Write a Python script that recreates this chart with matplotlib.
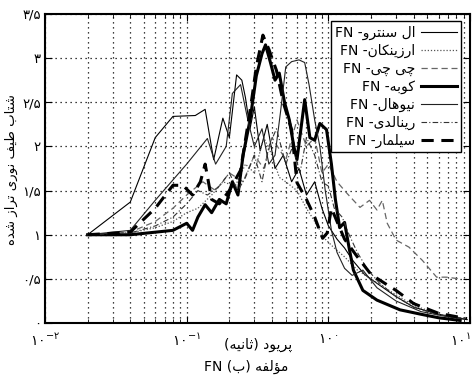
import matplotlib
matplotlib.use("Agg")
import matplotlib.pyplot as plt
import matplotlib.transforms as mtransforms
from matplotlib.ticker import FixedLocator, NullFormatter, LogLocator

# ---------------- minimal Arabic/Persian shaping ----------------
FORMS = {  # iso, fin, ini, med  (None for ini/med => right-joining only)
    'ا': ('\uFE8D', '\uFE8E', None, None),
    'ب': ('\uFE8F', '\uFE90', '\uFE91', '\uFE92'),
    'پ': ('\uFB56', '\uFB57', '\uFB58', '\uFB59'),
    'ت': ('\uFE95', '\uFE96', '\uFE97', '\uFE98'),
    'ث': ('\uFE99', '\uFE9A', '\uFE9B', '\uFE9C'),
    'چ': ('\uFB7A', '\uFB7B', '\uFB7C', '\uFB7D'),
    'د': ('\uFEA9', '\uFEAA', None, None),
    'ر': ('\uFEAD', '\uFEAE', None, None),
    'ز': ('\uFEAF', '\uFEB0', None, None),
    'س': ('\uFEB1', '\uFEB2', '\uFEB3', '\uFEB4'),
    'ش': ('\uFEB5', '\uFEB6', '\uFEB7', '\uFEB8'),
    'ط': ('\uFEC1', '\uFEC2', '\uFEC3', '\uFEC4'),
    'ف': ('\uFED1', '\uFED2', '\uFED3', '\uFED4'),
    'ق': ('\uFED5', '\uFED6', '\uFED7', '\uFED8'),
    'ک': ('\uFB8E', '\uFB8F', '\uFB90', '\uFB91'),
    'ل': ('\uFEDD', '\uFEDE', '\uFEDF', '\uFEE0'),
    'م': ('\uFEE1', '\uFEE2', '\uFEE3', '\uFEE4'),
    'ن': ('\uFEE5', '\uFEE6', '\uFEE7', '\uFEE8'),
    'ه': ('\uFEE9', '\uFEEA', '\uFEEB', '\uFEEC'),
    'و': ('\uFEED', '\uFEEE', None, None),
    'ؤ': ('\uFE85', '\uFE86', None, None),
    'ی': ('\uFBFC', '\uFBFD', '\uFBFE', '\uFBFF'),
}
MIRROR = {'(': ')', ')': '('}


def dual(c):
    return c in FORMS and FORMS[c][2] is not None


def shape_rtl(s):
    """Return visual (left-to-right) string for a purely RTL logical string."""
    out = []
    n = len(s)
    for i, c in enumerate(s):
        if c not in FORMS:
            out.append(MIRROR.get(c, c))
            continue
        prev_j = i > 0 and dual(s[i - 1])
        next_j = dual(c) and i + 1 < n and s[i + 1] in FORMS
        iso, fin, ini, med = FORMS[c]
        if prev_j and next_j:
            out.append(med)
        elif prev_j:
            out.append(fin)
        elif next_j:
            out.append(ini)
        else:
            out.append(iso)
    return ''.join(reversed(out))


# ---------------- data ----------------
names = ['ال سنترو', 'ارزینکان', 'چی چی', 'کوبه', 'نیوهال', 'رینالدی', 'سیلمار']

elcentro_T = [0.02, 0.04, 0.06, 0.08, 0.115, 0.135, 0.155, 0.18, 0.2, 0.225, 0.245, 0.26, 0.28, 0.3,
              0.33, 0.37, 0.42, 0.48, 0.55, 0.62, 0.7, 0.8, 0.9, 1.0, 1.15, 1.3, 1.5, 1.8, 2.2, 3, 4, 6, 9.5]
elcentro_V = [1.0, 1.37, 2.10, 2.34, 2.35, 2.42, 1.85, 2.32, 2.1, 2.81, 2.75, 2.55, 2.2, 2.45,
              1.95, 2.25, 1.75, 1.9, 1.6, 1.75, 1.45, 1.6, 1.3, 1.1, 0.95, 0.85, 0.7, 0.55, 0.45, 0.3, 0.18, 0.1, 0.04]

erzincan_T = [0.02, 0.04, 0.06, 0.08, 0.1, 0.12, 0.15, 0.18, 0.22, 0.26, 0.3, 0.35, 0.4, 0.45, 0.5,
              0.6, 0.7, 0.8, 0.95, 1.1, 1.3, 1.6, 2, 2.5, 3, 4, 6, 9.5]
erzincan_V = [1.0, 1.02, 1.08, 1.15, 1.25, 1.3, 1.45, 1.6, 1.55, 1.8, 1.7, 2.1, 1.9, 1.65, 1.6,
              1.5, 1.3, 1.15, 0.95, 0.85, 0.75, 0.6, 0.5, 0.4, 0.32, 0.2, 0.1, 0.05]

chichi_T = [0.02, 0.04, 0.06, 0.08, 0.1, 0.13, 0.16, 0.2, 0.25, 0.3, 0.35, 0.4, 0.5, 0.6, 0.7, 0.8,
            0.9, 1.0, 1.15, 1.35, 1.67, 1.95, 2.2, 2.4, 2.6, 3.0, 3.7, 4.6, 5.8, 6.8, 8.5]
chichi_V = [1.0, 1.03, 1.15, 1.3, 1.45, 1.6, 1.5, 1.7, 1.6, 1.9, 1.75, 2.1, 1.85, 2.3, 2.0, 2.1,
            1.7, 1.8, 1.6, 1.47, 1.31, 1.39, 1.28, 1.39, 1.13, 0.94, 0.86, 0.71, 0.52, 0.52, 0.5]

kobe_T = [0.02, 0.04, 0.08, 0.1, 0.11, 0.12, 0.135, 0.15, 0.17, 0.19, 0.21, 0.23, 0.25, 0.28, 0.31,
          0.34, 0.36, 0.39, 0.42, 0.45, 0.49, 0.53, 0.57, 0.6, 0.64, 0.68, 0.74, 0.8, 0.87, 0.97,
          1.05, 1.12, 1.2, 1.3, 1.4, 1.5, 1.75, 2.2, 3.2, 4.5, 6, 8.5]
kobe_V = [1.0, 1.0, 1.05, 1.13, 1.05, 1.2, 1.34, 1.25, 1.4, 1.35, 1.6, 1.45, 1.9, 2.3, 2.8,
          3.05, 3.15, 2.95, 2.75, 2.83, 2.5, 2.3, 2.0, 1.85, 2.2, 2.53, 2.1, 2.07, 2.26, 2.19,
          1.8, 1.4, 1.08, 1.14, 0.85, 0.6, 0.37, 0.26, 0.15, 0.1, 0.06, 0.03]

newhall_T = [0.02, 0.04, 0.06, 0.1, 0.14, 0.16, 0.19, 0.21, 0.24, 0.27, 0.3, 0.34, 0.38, 0.42, 0.46,
             0.5, 0.55, 0.62, 0.68, 0.73, 0.8, 0.87, 0.95, 1.05, 1.15, 1.3, 1.47, 1.75, 2.2, 3, 4.5, 7, 9.5]
newhall_V = [1.0, 1.05, 1.39, 1.8, 2.09, 1.8, 2.0, 2.6, 2.7, 2.3, 2.0, 2.2, 1.8, 1.9, 2.4,
             2.9, 2.96, 2.98, 2.95, 2.7, 2.3, 2.0, 1.5, 1.05, 0.8, 0.62, 0.54, 0.6, 0.4, 0.25, 0.13, 0.07, 0.04]

rinaldi_T = [0.02, 0.04, 0.06, 0.08, 0.1, 0.12, 0.14, 0.17, 0.2, 0.23, 0.26, 0.3, 0.34, 0.38, 0.43,
             0.5, 0.56, 0.63, 0.7, 0.8, 0.9, 1.0, 1.1, 1.25, 1.4, 1.6, 1.9, 2.3, 3, 4, 6, 9.5]
rinaldi_V = [1.0, 1.02, 1.1, 1.2, 1.35, 1.5, 1.45, 1.55, 1.7, 1.5, 1.65, 1.9, 1.6, 2.0, 2.2,
             1.8, 2.0, 1.7, 2.1, 1.9, 1.6, 1.55, 1.3, 1.2, 1.0, 0.8, 0.6, 0.45, 0.3, 0.18, 0.09, 0.05]

sylmar_T = [0.02, 0.04, 0.06, 0.08, 0.094, 0.11, 0.125, 0.135, 0.15, 0.17, 0.2, 0.24, 0.28, 0.31,
            0.345, 0.38, 0.43, 0.48, 0.55, 0.6, 0.7, 0.8, 0.91, 0.98, 1.05, 1.15, 1.3, 1.6, 2.0,
            2.5, 3.0, 4, 6, 9.5]
sylmar_V = [1.0, 1.03, 1.3, 1.56, 1.56, 1.45, 1.6, 1.8, 1.4, 1.35, 1.5, 1.73, 2.4, 2.9,
            3.26, 3.1, 2.86, 2.5, 2.19, 1.59, 1.4, 1.2, 0.96, 1.02, 1.3, 1.15, 0.95, 0.75, 0.55,
            0.45, 0.37, 0.22, 0.11, 0.05]

ytick_vals = [0, 0.5, 1, 1.5, 2, 2.5, 3, 3.5]
ytick_labels = ['۰', '۰/۵', '۱', '۱/۵', '۲', '۲/۵', '۳', '۳/۵']
xtick_vals = [0.01, 0.1, 1, 10]
xtick_labels = [r'$\mathregular{۱۰^{-۲}}$', r'$\mathregular{۱۰^{-۱}}$',
                r'$\mathregular{۱۰^{۰}}$', r'$\mathregular{۱۰^{۱}}$']

xlabel_text = 'پریود (ثانیه)'
caption_text = 'مؤلفه (ب)'
ylabel_text = 'شتاب طیف نوری تراز شده'

# ---------------- plot ----------------
plt.rcParams['font.family'] = ['DejaVu Sans']
plt.rcParams['mathtext.fontset'] = 'dejavusans'

fig = plt.figure(figsize=(4.73, 3.77), dpi=100)
ax = fig.add_axes([0.095, 0.143, 0.899, 0.820])

series = [
    (elcentro_T, elcentro_V, dict(color='black', lw=0.8, ls='-')),
    (erzincan_T, erzincan_V, dict(color='#555555', lw=0.9, ls=(0, (1, 1.5)))),
    (chichi_T, chichi_V, dict(color='#666666', lw=0.9, ls=(0, (5, 3)))),
    (kobe_T, kobe_V, dict(color='black', lw=2.2, ls='-')),
    (newhall_T, newhall_V, dict(color='#222222', lw=0.8, ls='-')),
    (rinaldi_T, rinaldi_V, dict(color='#333333', lw=0.8, ls=(0, (5, 2, 1, 2)))),
    (sylmar_T, sylmar_V, dict(color='black', lw=2.2, ls=(0, (4, 2.5)))),
]
handles = []
for (T, V, st), nm in zip(series, names):
    h, = ax.plot(T, V, label='FN -' + shape_rtl(nm), **st)
    handles.append(h)

ax.set_xscale('log')
ax.set_xlim(0.01, 10)
ax.set_ylim(0, 3.5)
ax.set_yticks(ytick_vals)
ax.set_yticklabels(ytick_labels, fontsize=9.5)
ax.xaxis.set_major_locator(FixedLocator(xtick_vals))
ax.set_xticklabels(xtick_labels, fontsize=10)
ax.xaxis.set_minor_locator(LogLocator(base=10, subs=range(2, 10)))
ax.xaxis.set_minor_formatter(NullFormatter())

ax.grid(True, which='major', axis='both', color='black', ls=(0, (1, 3)), lw=0.9)
ax.grid(True, which='minor', axis='x', color='black', ls=(0, (1, 3)), lw=0.9)
ax.tick_params(which='both', direction='in', top=True, right=True)
ax.tick_params(which='major', length=5)
ax.tick_params(axis='x', which='major', pad=7)
ax.tick_params(axis='y', which='major', pad=3)
ax.tick_params(which='minor', length=3)
for sp in ax.spines.values():
    sp.set_linewidth(1.5)

# keep the right-most tick label inside the figure
last = ax.get_xticklabels()[-1]
last.set_transform(last.get_transform() +
                   mtransforms.ScaledTranslation(-7 / 72, 0, fig.dpi_scale_trans))

leg = ax.legend(handles=handles, loc='upper right', bbox_to_anchor=(0.985, 0.985),
                markerfirst=False, fontsize=10, frameon=True, fancybox=False,
                edgecolor='black', framealpha=1, handlelength=2.6, labelspacing=0.28,
                borderpad=0.3, handletextpad=0.4, borderaxespad=0.2)
leg.get_frame().set_linewidth(1.0)
for t in leg.get_texts():
    t.set_ha('right')

fig.text(0.545, 0.085, shape_rtl(xlabel_text), ha='center', va='center', fontsize=10)
fig.text(0.52, 0.027, 'FN ' + shape_rtl(caption_text), ha='center', va='center', fontsize=10)
fig.text(0.024, 0.55, shape_rtl(ylabel_text), ha='center', va='center', rotation=90, fontsize=9.5)

fig.savefig('out.png', dpi=100)
